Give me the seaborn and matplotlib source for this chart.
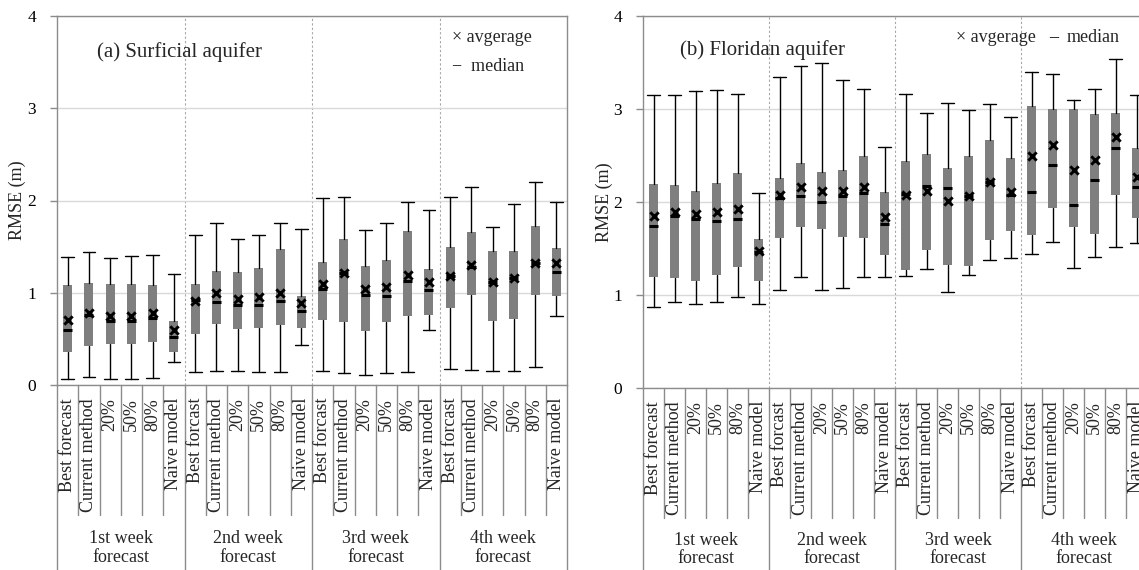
import matplotlib
matplotlib.use("Agg")
import numpy as np
import pandas as pd
import seaborn as sns
import matplotlib.pyplot as plt

# category labels (6 per forecast week)
cats_first = ["Best forecast", "Current method", "20%", "50%", "80%", "Naive model"]
cats_other = ["Best forcast", "Current method", "20%", "50%", "80%", "Naive model"]
categories = cats_first + cats_other * 3
weeks = ["1st week\nforecast", "2nd week\nforecast", "3rd week\nforecast", "4th week\nforecast"]

# (a) Surficial aquifer - box statistics
surf_lo = [0.06, 0.09, 0.07, 0.07, 0.08, 0.25, 0.14, 0.155, 0.155, 0.14, 0.14, 0.43,
           0.15, 0.13, 0.11, 0.13, 0.14, 0.60, 0.17, 0.16, 0.15, 0.15, 0.19, 0.75]
surf_q1 = [0.36, 0.42, 0.44, 0.44, 0.47, 0.36, 0.55, 0.66, 0.61, 0.62, 0.65, 0.62,
           0.70, 0.68, 0.59, 0.68, 0.75, 0.76, 0.83, 0.98, 0.69, 0.715, 0.975, 0.965]
surf_med = [0.60, 0.76, 0.69, 0.69, 0.73, 0.52, 0.92, 0.90, 0.87, 0.87, 0.91, 0.80,
            1.045, 1.215, 0.98, 0.965, 1.13, 1.03, 1.18, 1.28, 1.12, 1.155, 1.32, 1.22]
surf_q3 = [1.085, 1.11, 1.095, 1.095, 1.085, 0.69, 1.095, 1.24, 1.23, 1.265, 1.47, 0.97,
           1.33, 1.58, 1.29, 1.36, 1.67, 1.255, 1.50, 1.655, 1.455, 1.455, 1.72, 1.48]
surf_hi = [1.39, 1.44, 1.38, 1.40, 1.41, 1.20, 1.63, 1.76, 1.58, 1.63, 1.76, 1.69,
           2.03, 2.04, 1.68, 1.76, 1.985, 1.90, 2.04, 2.15, 1.71, 1.96, 2.20, 1.985]
surf_mean = [0.70, 0.78, 0.75, 0.75, 0.78, 0.60, 0.91, 1.00, 0.93, 0.95, 1.00, 0.89,
             1.10, 1.21, 1.045, 1.065, 1.19, 1.12, 1.18, 1.30, 1.12, 1.155, 1.325, 1.32]

# (b) Floridan aquifer
flor_lo = [0.87, 0.93, 0.90, 0.93, 0.975, 0.90, 1.05, 1.19, 1.05, 1.07, 1.19, 1.19,
           1.20, 1.275, 1.03, 1.21, 1.38, 1.395, 1.44, 1.57, 1.29, 1.41, 1.52, 1.555]
flor_q1 = [1.19, 1.18, 1.15, 1.215, 1.30, 1.15, 1.61, 1.73, 1.71, 1.62, 1.61, 1.43,
           1.27, 1.48, 1.32, 1.31, 1.59, 1.69, 1.64, 1.94, 1.735, 1.66, 2.08, 1.83]
flor_med = [1.74, 1.85, 1.82, 1.80, 1.82, 1.46, 2.04, 2.065, 2.00, 2.065, 2.10, 1.76,
            2.085, 2.175, 2.15, 2.06, 2.22, 2.08, 2.11, 2.40, 1.97, 2.24, 2.58, 2.16]
flor_q3 = [2.19, 2.18, 2.12, 2.20, 2.31, 1.605, 2.26, 2.415, 2.32, 2.34, 2.49, 2.11,
           2.44, 2.515, 2.37, 2.495, 2.67, 2.47, 3.03, 3.00, 3.00, 2.95, 2.96, 2.58]
flor_hi = [3.15, 3.15, 3.19, 3.20, 3.16, 2.10, 3.34, 3.46, 3.49, 3.31, 3.22, 2.59,
           3.16, 2.96, 3.06, 2.99, 3.05, 2.91, 3.40, 3.38, 3.10, 3.21, 3.54, 3.15]
flor_mean = [1.85, 1.89, 1.87, 1.89, 1.93, 1.475, 2.08, 2.16, 2.12, 2.12, 2.16, 1.835,
             2.075, 2.12, 2.01, 2.06, 2.22, 2.11, 2.50, 2.61, 2.34, 2.45, 2.70, 2.265]

sns.set_theme(style="white")
plt.rcParams["font.family"] = ["Liberation Serif", "DejaVu Serif"]

GRAY = "#7f7f7f"
LINE = "#8c8c8c"

fig = plt.figure(figsize=(11.39, 5.70), dpi=100)


def draw_panel(ax, lo, q1, med, q3, hi, mean, inner_len, outer_len, label_y):
    pos = np.arange(len(categories))
    stats = [dict(whislo=a, q1=b, med=c, q3=d, whishi=e, fliers=[])
             for a, b, c, d, e in zip(lo, q1, med, q3, hi)]
    ax.bxp(stats, positions=pos, widths=0.42, capwidths=0.6, patch_artist=True,
           showfliers=False,
           boxprops=dict(facecolor=GRAY, edgecolor="none"),
           medianprops=dict(color="black", lw=2.2, solid_capstyle="butt"),
           whiskerprops=dict(color="black", lw=1),
           capprops=dict(color="black", lw=1))
    df = pd.DataFrame({"pos": pos, "mean": mean})
    sns.scatterplot(data=df, x="pos", y="mean", marker="x", color="black",
                    s=36, linewidth=2.1, ax=ax, zorder=5)

    ax.set_xlim(-0.5, 23.5)
    ax.set_ylim(0, 4)
    ax.set_yticks([0, 1, 2, 3, 4])
    ax.set_xticks([])
    ax.set_xlabel("")
    ax.yaxis.grid(True, color="#d9d9d9", lw=1)
    ax.set_axisbelow(True)
    for s in ax.spines.values():
        s.set_color(LINE)
        s.set_linewidth(1)
    ax.tick_params(axis="y", left=True, length=5, width=1, color=LINE,
                   pad=10, labelsize=12.5, labelcolor="black")
    ax.set_ylabel("RMSE (m)", fontsize=13)
    ax.yaxis.set_label_coords(-0.060, 0.5)

    for b in [5.5, 11.5, 17.5]:
        ax.axvline(b, color="#a6a6a6", lw=0.8, ls=(0, (2, 2)), zorder=0)

    tr = ax.get_xaxis_transform()
    for k in range(25):
        x = k - 0.5
        length = outer_len if k % 6 == 0 else inner_len
        ax.plot([x, x], [0, -length], color=LINE, lw=1, transform=tr, clip_on=False)
    for i, c in enumerate(categories):
        ax.text(i, -0.035, c, rotation=90, ha="center", va="top", fontsize=13,
                transform=tr)
    for g, w in enumerate(weeks):
        ax.text(g * 6 + 2.5, label_y, w, ha="center", va="center", fontsize=13,
                linespacing=1.1, transform=tr)


ax1 = fig.add_axes([57 / 1139, 185 / 570, 510 / 1139, 369 / 570])
draw_panel(ax1, surf_lo, surf_q1, surf_med, surf_q3, surf_hi, surf_mean,
           0.352, 0.51, -0.442)
ax1.text(0.078, 0.902, "(a) Surficial aquifer", transform=ax1.transAxes,
         ha="left", va="center", fontsize=15)
ax1.text(0.775, 0.943, "× avgerage", transform=ax1.transAxes,
         ha="left", va="center", fontsize=13)
ax1.text(0.775, 0.862, "−  median", transform=ax1.transAxes,
         ha="left", va="center", fontsize=13)

ax2 = fig.add_axes([643 / 1139, 182 / 570, 504 / 1139, 372 / 570])
draw_panel(ax2, flor_lo, flor_q1, flor_med, flor_q3, flor_hi, flor_mean,
           0.35, 0.5, -0.435)
ax2.text(0.074, 0.909, "(b) Floridan aquifer", transform=ax2.transAxes,
         ha="left", va="center", fontsize=15)
ax2.text(0.621, 0.941, "× avgerage", transform=ax2.transAxes,
         ha="left", va="center", fontsize=13)
ax2.text(0.815, 0.941, "–", transform=ax2.transAxes, fontweight="bold",
         ha="center", va="center", fontsize=13)
ax2.text(0.841, 0.941, "median", transform=ax2.transAxes,
         ha="left", va="center", fontsize=13)

fig.savefig("out.png", dpi=100)
